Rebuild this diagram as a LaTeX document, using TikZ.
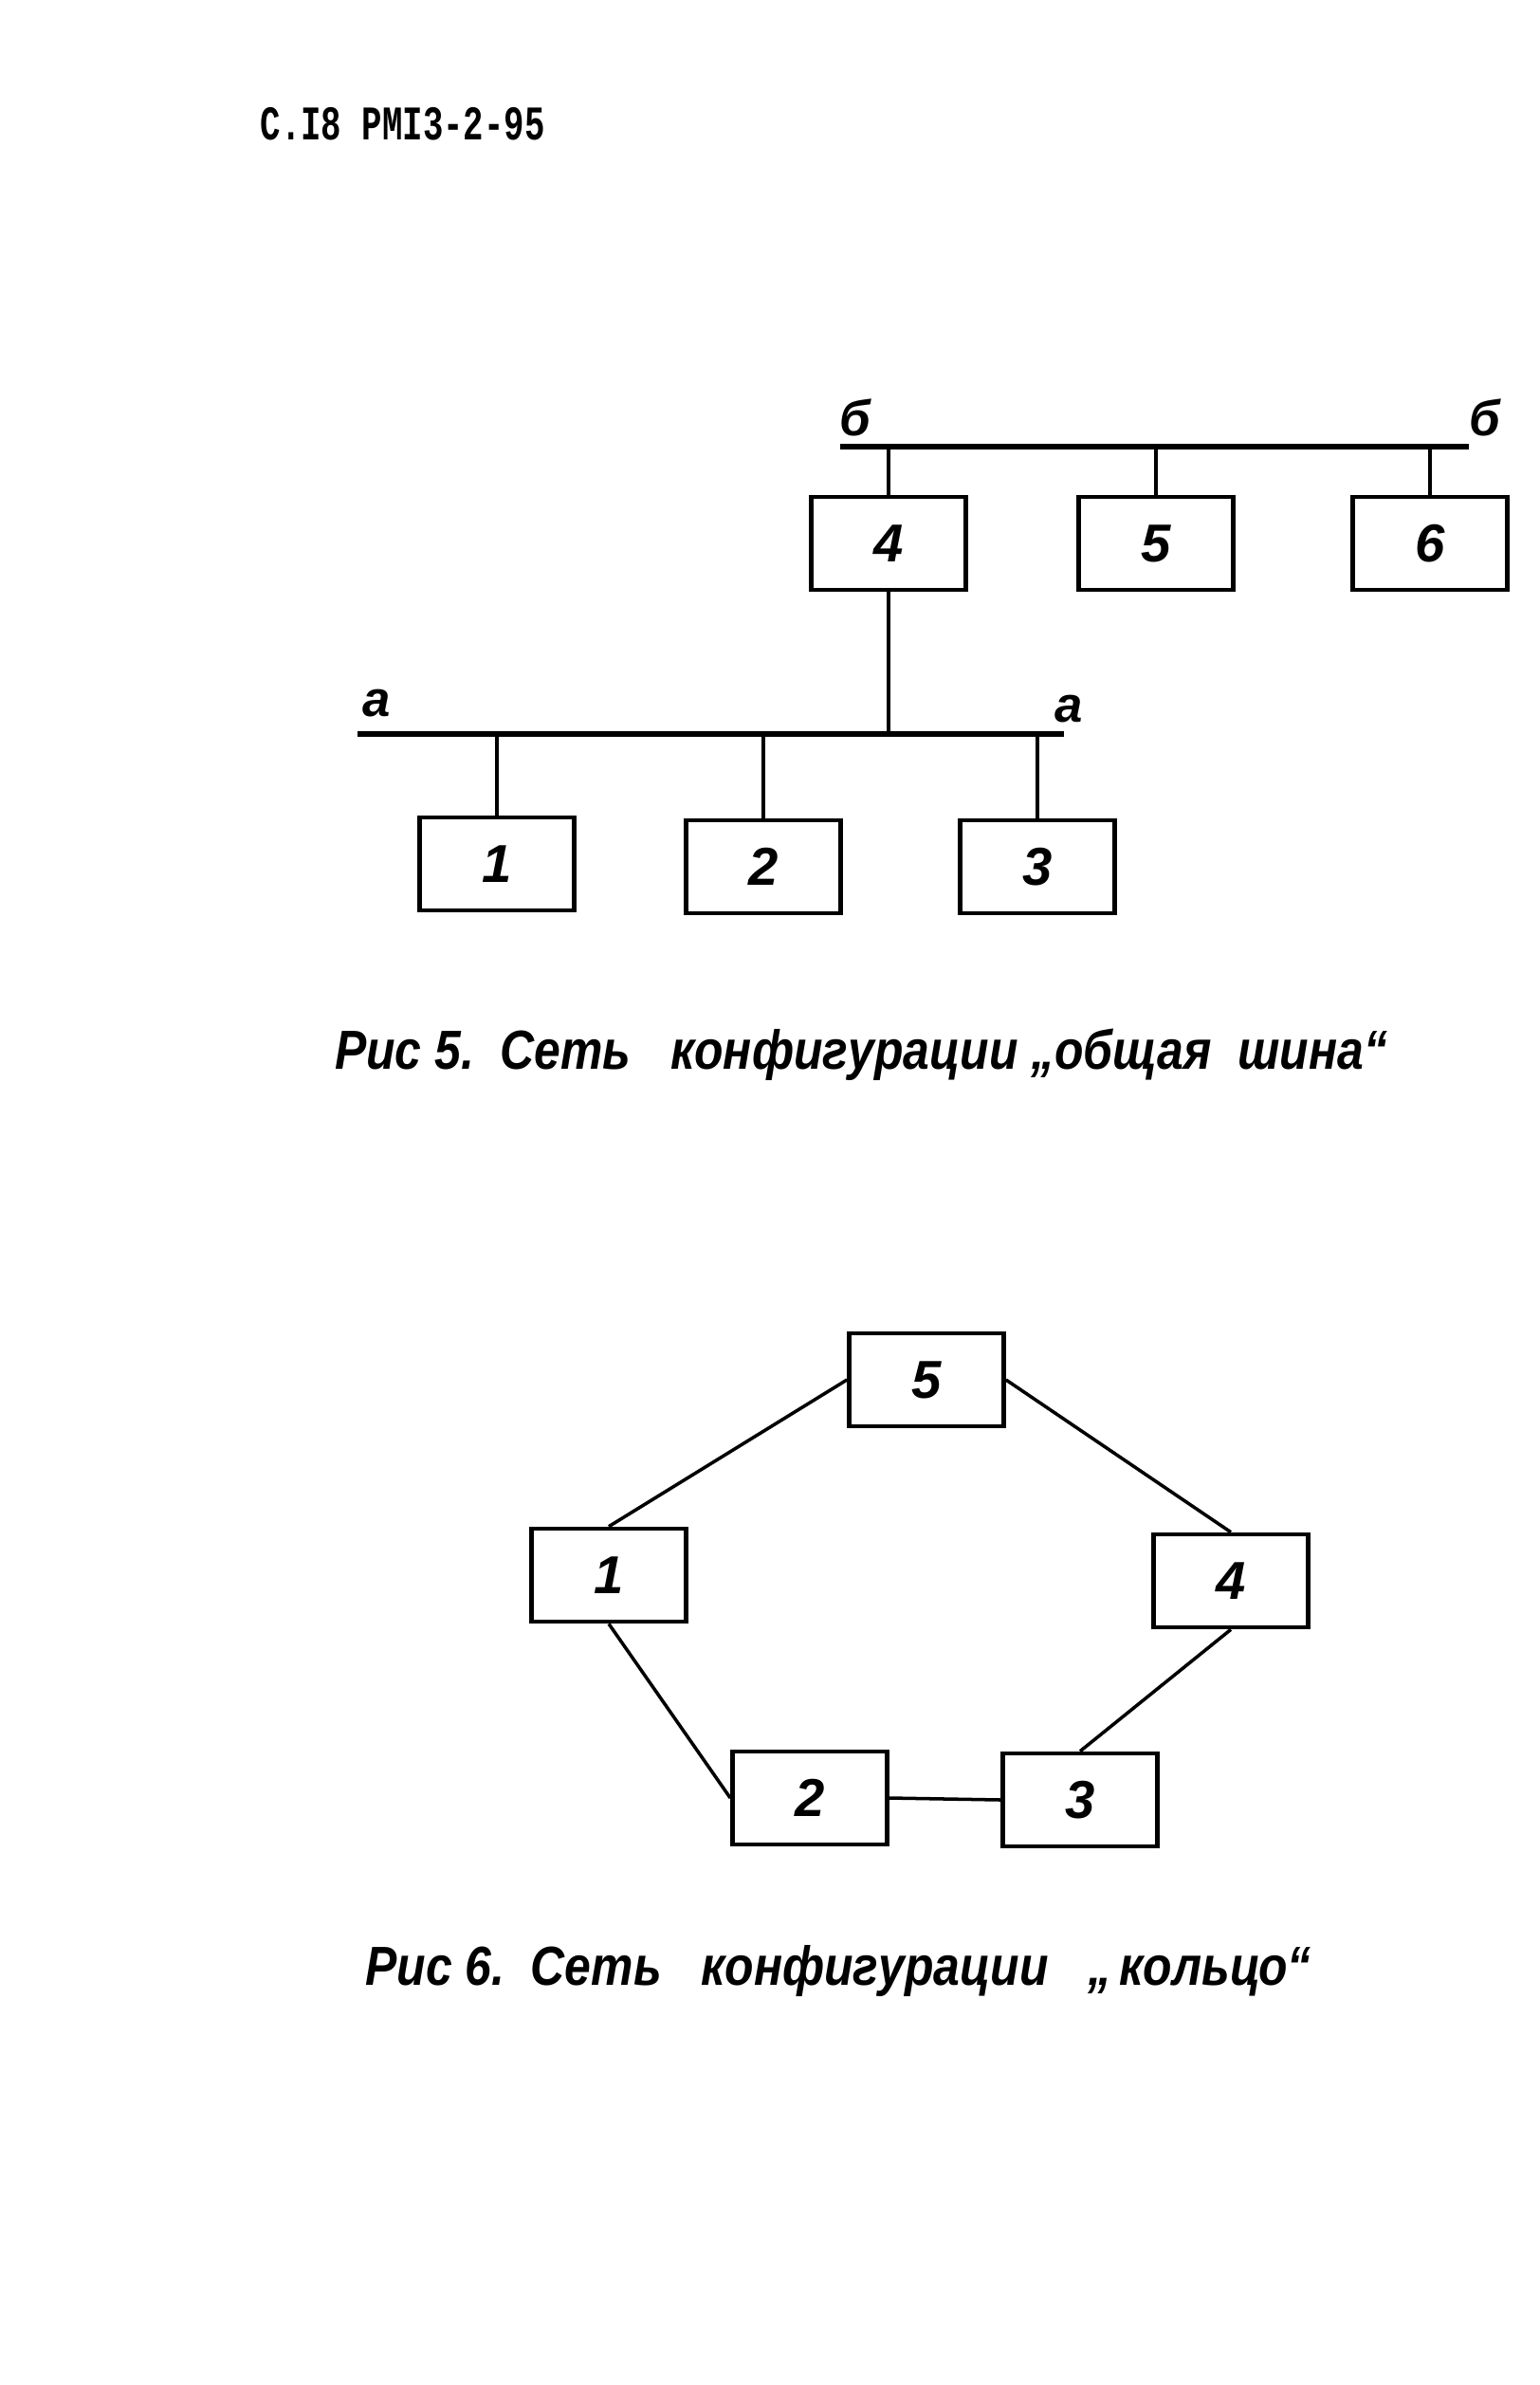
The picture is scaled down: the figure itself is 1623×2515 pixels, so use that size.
\documentclass[tikz,border=0pt]{standalone}
\usepackage{fontspec}
\setmainfont{Liberation Sans}
\newfontfamily\typefont{Liberation Mono}
\usepackage{tikz}
\usetikzlibrary{positioning, calc}

\begin{document}
\begin{tikzpicture}[x=0.01cm, y=-0.01cm,
    box/.style={rectangle, draw, line width=1.3pt, minimum width=1.63cm, minimum height=0.98cm, font=\fontsize{16}{16}\selectfont\itshape\bfseries},
    bus/.style={line width=1.8pt},
    tap/.style={line width=0.9pt},
    link/.style={line width=1pt},
    buslabel/.style={font=\fontsize{15}{15}\selectfont\itshape\bfseries},
    caption/.style={xscale=0.86, transform shape, font=\fontsize{16.5}{16.5}\selectfont\itshape\bfseries}]
    \useasboundingbox (0,0) rectangle (1623,2515);

    \node (head) [anchor=base west, xscale=0.7, transform shape, font=\typefont\bfseries\fontsize{14.5}{14.5}\selectfont] at (266,148) {С.I8 РМI3-2-95};

    \coordinate (bbl) at (886,471);
    \coordinate (bbr) at (1549,471);
    \draw[bus] (bbl) -- (bbr);
    \node (lbl) [buslabel] at (902,440) {б};
    \node (lbr) [buslabel] at (1566,440) {б};

    \node (b4) [box] at (937,573) {4};
    \node (b5) [box] at (1219,573) {5};
    \node (b6) [box] at (1508,573) {6};
    \draw[tap] (b4.north) -- (b4.north |- bbl);
    \draw[tap] (b5.north) -- (b5.north |- bbl);
    \draw[tap] (b6.north) -- (b6.north |- bbl);

    \coordinate (bal) at (377,774);
    \coordinate (bar) at (1122,774);
    \draw[bus] (bal) -- (bar);
    \node (lal) [buslabel] at (397,742) {а};
    \node (lar) [buslabel] at (1127,748) {а};
    \draw[tap] (b4.south) -- (b4.south |- bal);

    \node (b1) [box] at (524,911) {1};
    \node (b2) [box] at (805,914) {2};
    \node (b3) [box] at (1094,914) {3};
    \draw[tap] (b1.north) -- (b1.north |- bal);
    \draw[tap] (b2.north) -- (b2.north |- bal);
    \draw[tap] (b3.north) -- (b3.north |- bal);

    \node (cap5) [caption] at (908,1112) {Рис 5.\ \ Сеть\ \ \ конфигурации\ „общая\ \ шина“};

    \node (r5) [box] at (977,1455) {5};
    \node (r1) [box] at (642,1661) {1};
    \node (r4) [box] at (1298,1667) {4};
    \node (r2) [box] at (854,1896) {2};
    \node (r3) [box] at (1139,1898) {3};
    \draw[link] (r5.west) -- (r1.north);
    \draw[link] (r5.east) -- (r4.north);
    \draw[link] (r1.south) -- (r2.west);
    \draw[link] (r4.south) -- (r3.north);
    \draw[link] (r2.east) -- (r3.west);

    \node (cap6) [caption] at (884,2078) {Рис 6.\ \ Сеть\ \ \ конфигурации\ \ \ „\,кольцо“};
\end{tikzpicture}
\end{document}
